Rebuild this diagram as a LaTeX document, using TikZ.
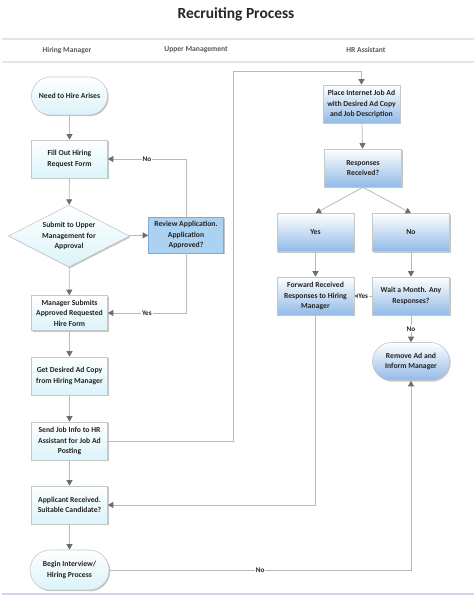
\documentclass[tikz,border=0pt]{standalone}
\usepackage{fontspec}
\setmainfont{Carlito}
\usetikzlibrary{arrows.meta,shapes.geometric,shadows}

\definecolor{ln}{RGB}{185,185,185}
\definecolor{tipc}{RGB}{110,110,110}
\definecolor{txt}{RGB}{35,35,35}
\definecolor{cyanb}{RGB}{218,244,250}
\definecolor{blueb}{RGB}{145,186,230}
\definecolor{revf}{RGB}{172,210,242}
\definecolor{revd}{RGB}{125,170,215}
\definecolor{bdr}{RGB}{200,200,200}
\definecolor{hdr}{RGB}{225,230,230}
\definecolor{lav}{RGB}{215,210,235}

\tikzset{
 base/.style={draw=bdr, line width=0.6bp, align=center,
   font=\bfseries\fontsize{7.7}{10.5}\selectfont, text=txt, inner sep=1bp,
   drop shadow={shadow xshift=1.2bp, shadow yshift=-1.2bp, fill=black!45}},
 lbox/.style={base, rectangle, minimum width=76bp, minimum height=38bp,
   top color=white, bottom color=cyanb},
 lstad/.style={lbox, rounded corners=19bp},
 rbox/.style={base, rectangle, minimum width=77bp, minimum height=38bp,
   top color=white, middle color=white, bottom color=blueb},
 rstad/.style={rbox, rounded corners=19bp},
 revbox/.style={base, rectangle, draw=revd, fill=revf, minimum width=75bp, minimum height=36bp},
 dia/.style={base, diamond, aspect=2, inner sep=0pt, minimum width=121bp,
   minimum height=62bp, top color=white, bottom color=cyanb},
 conn/.style={draw=ln, line width=0.8bp,
   -{Triangle[width=6bp,length=5.5bp,fill=tipc,color=tipc]}},
 lbl/.style={font=\bfseries\fontsize{7.2}{8}\selectfont, fill=white, inner sep=1bp, text=txt},
 lane/.style={font=\bfseries\fontsize{7.6}{9}\selectfont, text=black!65},
}

\begin{document}
\begin{tikzpicture}[x=1bp,y=-1bp]
\useasboundingbox (0,0) rectangle (474,596);
\fill[white] (0,0) rectangle (474,596);

% header
\node[font=\bfseries\fontsize{15.5}{18}\selectfont, text=black!85] (title) at (236,14) {Recruiting Process};
\draw[hdr, line width=1.5bp] (2,39) -- (474,39);
\draw[hdr, line width=1.5bp] (2,62) -- (474,62);
\draw[lav, line width=1.2bp] (2,594) -- (474,594);
\node[lane] (l1) at (67,50) {Hiring Manager};
\node[lane] (l2) at (196,50) {Upper Management};
\node[lane] (l3) at (366,50) {HR Assistant};

% left lane
\node[lstad] (need) at (69.5,96) {Need to Hire Arises};
\node[lbox] (fill) at (69.5,159) {Fill Out Hiring\\Request Form};
\node[dia] (sub) at (69,236) {Submit to Upper\\Management for\\Approval};
\node[revbox] (rev) at (186,235) {Review Application.\\Application\\Approved?};
\node[lbox, minimum height=35bp] (mgr) at (69.5,313) {Manager Submits\\Approved Requested\\Hire Form};
\node[lbox] (get) at (69.5,376) {Get Desired Ad Copy\\from Hiring Manager};
\node[lbox] (send) at (69.5,441) {Send Job Info to HR\\Assistant for Job Ad\\Posting};
\node[lbox] (app) at (69.5,505) {Applicant Received.\\Suitable Candidate?};
\node[lstad, minimum width=79bp, minimum height=40bp, rounded corners=20bp] (begin) at (69.5,570) {Begin Interview/\\Hiring Process};

% right lane
\node[rbox] (place) at (361.5,104) {Place Internet Job Ad\\with Desired Ad Copy\\and Job Description};
\node[rbox] (resp) at (363,168) {Responses\\Received?};
\node[rbox] (yes) at (315.5,232.5) {Yes};
\node[rbox] (no) at (411,232.5) {No};
\node[rbox] (fwd) at (315.5,296) {Forward Received\\Responses to Hiring\\Manager};
\node[rbox] (wait) at (411,296) {Wait a Month. Any\\Responses?};
\node[rstad] (rem) at (411,361.5) {Remove Ad and\\Inform Manager};

\coordinate (c1) at (233,71);

% connectors
\draw[conn] (need) -- (fill);
\draw[conn] (fill) -- (sub);
\draw[conn] (sub) -- (rev);
\draw[conn] (rev.north) |- node[lbl, pos=0.75] {No} (fill.east);
\draw[conn] (rev.south) |- node[lbl, pos=0.75] {Yes} (mgr.east);
\draw[conn] (sub) -- (mgr);
\draw[conn] (mgr) -- (get);
\draw[conn] (get) -- (send);
\draw[conn] (send) -- (app);
\draw[conn] (app) -- (begin);
\draw[conn] (send.east) -| (c1) -| (place.north);
\draw[conn] (place) -- (resp);
\draw[conn] (resp.south) -- (yes.north);
\draw[conn] (resp.south) -- (no.north);
\draw[conn] (yes) -- (fwd);
\draw[conn] (no) -- (wait);
\draw[conn] (wait) -- node[lbl, inner sep=0.5bp] {Yes} (fwd);
\draw[conn] (wait) -- node[lbl] {No} (rem);
\draw[conn] (fwd.south) |- (app.east);
\draw[conn] (begin.east) -| node[lbl, pos=0.25] {No} (rem.south);
\end{tikzpicture}
\end{document}
